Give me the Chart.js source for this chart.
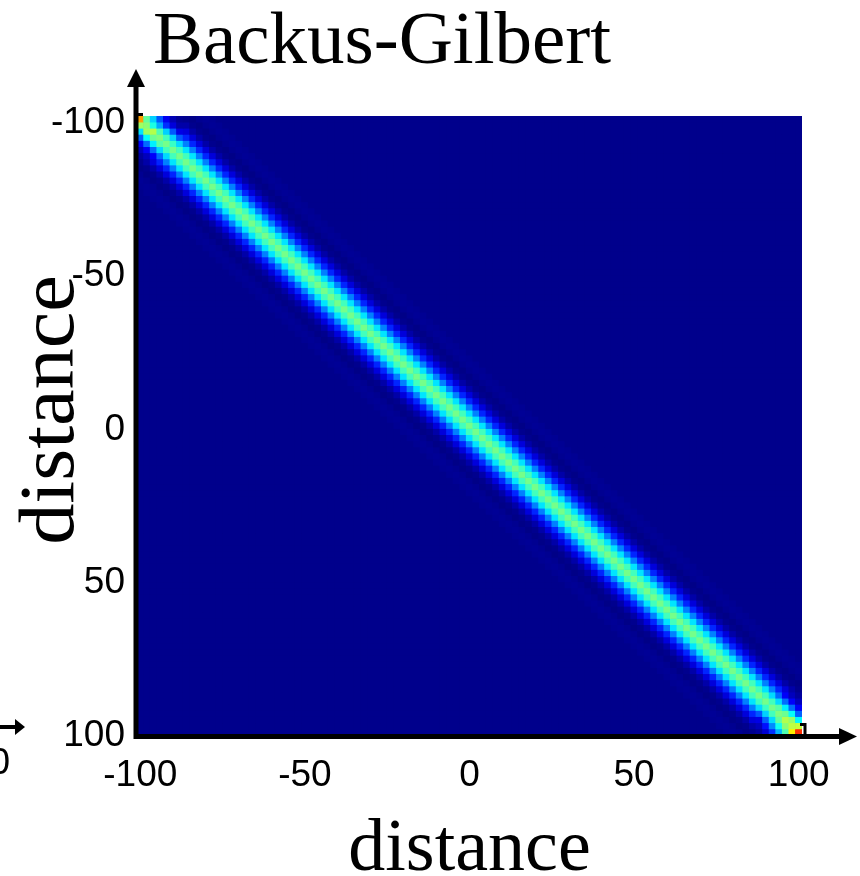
<!DOCTYPE html>
<html>
<head>
<meta charset="utf-8">
<title>Backus-Gilbert</title>
<script src="https://cdn.jsdelivr.net/npm/chart.js@4"></script>
<style>
  html, body { margin: 0; padding: 0; background: #fff; }
  #chart { display: block; }
</style>
</head>
<body>
<canvas id="chart" width="860" height="876"></canvas>
<script>
// model cell centres along both axes (distance units)
const cellCenters = Array.from({ length: 101 }, (_, i) => -100 + 2 * i);
const xTicks = [-100, -50, 0, 50, 100];
const yTicks = [-100, -50, 0, 50, 100];

// resolution kernel amplitude vs. offset from the diagonal (0 = on diagonal)
const bandProfile = [0.49, 0.44, 0.35, 0.25, 0.16, 0.09, 0.04, 0.014, 0.007, 0.017, 0.022, 0.019];
const offBand = 0.012;

// kernels are distorted near the ends of the profile
const cornerTopLeft = [
  [0.72, 0.47, 0.33, 0.21, 0.11, 0.05, 0.02],
  [0.53, 0.51, 0.40, 0.29, 0.17, 0.09, 0.04],
  [0.35, 0.53, 0.55, 0.45, 0.33, 0.21, 0.10],
  [0.22, 0.38, 0.48, 0.50, 0.44, 0.33, 0.21],
  [0.12, 0.23, 0.36, 0.46, 0.49, 0.43, 0.34],
  [0.06, 0.12, 0.23, 0.34, 0.44, 0.49, 0.44],
  [0.03, 0.06, 0.12, 0.23, 0.34, 0.44, 0.49]
];
// counted from the last row / last column inwards
const cornerBottomRight = [
  [0.83, 0.64, 0.45, 0.30, 0.17, 0.08, 0.03],
  [0.57, 0.56, 0.51, 0.39, 0.26, 0.14, 0.06],
  [0.37, 0.52, 0.55, 0.47, 0.34, 0.22, 0.10],
  [0.22, 0.38, 0.48, 0.50, 0.44, 0.33, 0.21],
  [0.12, 0.23, 0.36, 0.46, 0.49, 0.43, 0.34],
  [0.06, 0.12, 0.23, 0.34, 0.44, 0.49, 0.44],
  [0.03, 0.06, 0.12, 0.23, 0.34, 0.44, 0.49]
];

const n = cellCenters.length;
const resolution = cellCenters.map((_, i) => cellCenters.map((_, j) => {
  const d = Math.abs(i - j);
  return d < bandProfile.length ? bandProfile[d] : offBand;
}));
cornerTopLeft.forEach((row, i) => row.forEach((v, j) => { resolution[i][j] = v; }));
cornerBottomRight.forEach((row, i) => row.forEach((v, j) => { resolution[n - 1 - i][n - 1 - j] = v; }));

function clamp01(v) { return Math.min(1, Math.max(0, v)); }

function jet(t) {
  const r = clamp01(Math.min(4 * t - 1.5, -4 * t + 4.5));
  const g = clamp01(Math.min(4 * t - 0.5, -4 * t + 3.5));
  const b = clamp01(Math.min(4 * t + 0.5, -4 * t + 2.5));
  return `rgb(${Math.round(r * 255)},${Math.round(g * 255)},${Math.round(b * 255)})`;
}

// one floating-bar dataset per matrix row
const datasets = cellCenters.map((yc, i) => ({
  data: cellCenters.map((xc, j) => ({ x: xc, y: [yc - 1, yc + 1], v: resolution[i][j] })),
  backgroundColor: ctx => jet(ctx.raw ? ctx.raw.v : 0),
  borderWidth: 0,
  grouped: false,
  barPercentage: 1,
  categoryPercentage: 1
}));

const sansTick = { family: "'Liberation Sans', Arial, sans-serif", size: 37 };
const serif = "'Liberation Serif', 'Times New Roman', serif";

function arrowHead(ctx, tipX, tipY, dir, len, half) {
  ctx.beginPath();
  if (dir === 'up') {
    ctx.moveTo(tipX, tipY);
    ctx.lineTo(tipX - half, tipY + len);
    ctx.lineTo(tipX + half, tipY + len);
  } else {
    ctx.moveTo(tipX, tipY);
    ctx.lineTo(tipX - len, tipY - half);
    ctx.lineTo(tipX - len, tipY + half);
  }
  ctx.closePath();
  ctx.fill();
}

const framePlugin = {
  id: 'frame',
  beforeDatasetsDraw(chart) {
    const { ctx, chartArea: a } = chart;
    ctx.save();
    ctx.fillStyle = jet(offBand);
    ctx.fillRect(a.left, a.top, a.right - a.left, a.bottom - a.top);
    ctx.restore();
  },
  afterDraw(chart) {
    const { ctx, chartArea: a } = chart;
    const x = chart.scales.x, y = chart.scales.y;
    ctx.save();
    ctx.fillStyle = '#000';
    ctx.strokeStyle = '#000';

    // axes with arrow heads
    const ax = a.left - 1, ay = a.bottom + 1.5;
    ctx.lineWidth = 5;
    ctx.beginPath();
    ctx.moveTo(ax, ay + 2);
    ctx.lineTo(ax, 84);
    ctx.moveTo(ax - 2.5, ay);
    ctx.lineTo(842, ay);
    ctx.stroke();
    arrowHead(ctx, ax, 69, 'up', 18, 9);
    arrowHead(ctx, 857, ay, 'right', 18, 8.5);

    // end ticks
    ctx.lineWidth = 3;
    ctx.beginPath();
    ctx.moveTo(ax, y.getPixelForValue(-101) - 1.5);
    ctx.lineTo(ax + 7, y.getPixelForValue(-101) - 1.5);
    const xe = x.getPixelForValue(101) + 3;
    ctx.moveTo(xe, ay);
    ctx.lineTo(xe, ay - 12);
    ctx.lineTo(xe - 5, ay - 12);
    ctx.stroke();

    // title
    ctx.font = `75px ${serif}`;
    ctx.textAlign = 'center';
    ctx.textBaseline = 'alphabetic';
    ctx.fillText('Backus-Gilbert', 382, 63);

    // vertical axis title, slightly stretched along its length
    ctx.save();
    ctx.translate(73, 410);
    ctx.rotate(-Math.PI / 2);
    ctx.scale(1.055, 1);
    ctx.font = `78px ${serif}`;
    ctx.textAlign = 'center';
    ctx.textBaseline = 'alphabetic';
    ctx.fillText('distance', 0, 0);
    ctx.restore();

    // edge of the neighbouring panel
    ctx.lineWidth = 4;
    ctx.beginPath();
    ctx.moveTo(-5, 727);
    ctx.lineTo(16, 727);
    ctx.stroke();
    arrowHead(ctx, 25, 727, 'right', 10, 8);
    ctx.font = `37px ${sansTick.family}`;
    ctx.textAlign = 'right';
    ctx.textBaseline = 'middle';
    ctx.fillText('100', 10, 764);
    ctx.restore();
  }
};

new Chart(document.getElementById('chart'), {
  type: 'bar',
  data: { datasets },
  options: {
    responsive: false,
    animation: false,
    devicePixelRatio: 1,
    layout: { padding: { top: 116, right: 58, bottom: 0, left: 0 } },
    plugins: {
      legend: { display: false },
      tooltip: { enabled: false },
      title: { display: false }
    },
    scales: {
      x: {
        type: 'linear',
        min: -101,
        max: 101,
        offset: false,
        grid: { display: false, drawTicks: false },
        border: { display: false },
        afterBuildTicks: axis => { axis.ticks = xTicks.map(v => ({ value: v })); },
        afterFit: scale => { scale.height = 141; },
        ticks: {
          color: '#000',
          font: sansTick,
          padding: 19,
          maxRotation: 0,
          autoSkip: false,
          callback: v => String(v)
        },
        title: {
          display: true,
          text: 'distance',
          color: '#000',
          font: { family: serif, size: 74, lineHeight: 0.7 },
          padding: 0
        }
      },
      y: {
        type: 'linear',
        min: -101,
        max: 101,
        reverse: true,
        grid: { display: false, drawTicks: false },
        border: { display: false },
        afterBuildTicks: axis => { axis.ticks = yTicks.map(v => ({ value: v })); },
        afterFit: scale => { scale.width = 137; },
        ticks: {
          color: '#000',
          font: sansTick,
          padding: 12,
          labelOffset: 4,
          autoSkip: false,
          callback: v => String(v)
        },
        title: { display: false }
      }
    }
  },
  plugins: [framePlugin]
});
</script>
</body>
</html>
